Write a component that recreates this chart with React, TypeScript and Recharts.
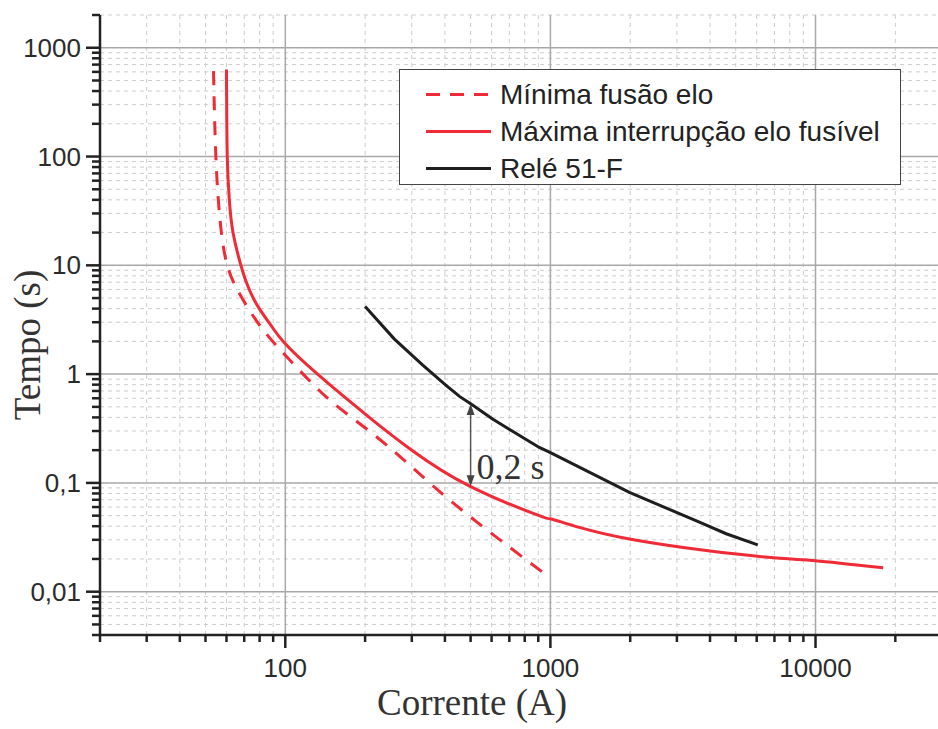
import React from 'react';
import { LineChart, Line, XAxis, YAxis, CartesianGrid, ReferenceLine } from 'recharts';

// Minimum melting curve of the fuse link (dashed red)
const minFusionCurrent = [53.6, 54.7, 56.7, 60.5, 69, 82, 100.6, 127, 162, 247, 428, 935];
const minFusionTime = [610, 101, 26.5, 9.9, 4.9, 2.6, 1.47, 0.81, 0.477, 0.212, 0.066, 0.0151];

// Maximum clearing curve of the fuse link (solid red)
const maxClearCurrent = [60, 60.4, 61.5, 63.5, 68, 71.3, 75.7, 81.9, 89.3, 99, 131, 213, 300, 494, 908, 1006, 1285, 1986, 3873, 7313, 10000, 18000];
const maxClearTime = [630, 100, 40, 20, 10, 7.0, 5.0, 3.63, 2.7, 1.95, 1.02, 0.38, 0.2, 0.094, 0.05, 0.0466, 0.039, 0.0305, 0.0239, 0.0203, 0.0193, 0.0166];

// Relay 51-F curve (black)
const relayCurrent = [200, 258, 330, 404, 454, 502, 605, 908, 996, 1986, 3648, 4603, 6056];
const relayTime = [4.19, 2.1, 1.21, 0.79, 0.624, 0.53, 0.386, 0.212, 0.191, 0.082, 0.0435, 0.0341, 0.0269];

// Coordination margin marker
const marginCurrent = 500;
const marginTimes = [0.093, 0.53];
const marginLabel = '0,2 s';

const xDecades = [10, 100, 1000, 10000];
const yDecades = [0.001, 0.01, 0.1, 1, 10, 100, 1000];
const xDomain = [20, 30000];
const yDomain = [0.004, 2000];

const legendItems = [
  { name: 'Mínima fusão elo', color: '#ee2b36', dash: '14 10' },
  { name: 'Máxima interrupção elo fusível', color: '#ee2b36', dash: undefined },
  { name: 'Relé 51-F', color: '#1e1e1e', dash: undefined },
];

const toRows = (xs: number[], ys: number[]) => xs.map((v, i) => ({ i: v, t: ys[i] }));

const buildTicks = (decades: number[], domain: number[]) => {
  const out: number[] = [];
  decades.forEach(d => {
    for (let m = 1; m <= 9; m++) {
      const v = m === 1 ? d : m * d;
      if (v >= domain[0] * 0.999 && v <= domain[1] * 1.001) out.push(v);
    }
  });
  return out;
};

const isDecade = (v: number) => Math.abs(Math.log10(v) - Math.round(Math.log10(v))) < 1e-6;
const fmt = (v: number) => (v >= 1 ? String(Math.round(v)) : String(v).replace('.', ','));

const xTicks = buildTicks(xDecades, xDomain);
const yTicks = buildTicks(yDecades, yDomain);
const xMajor = xTicks.filter(isDecade);
const xMinor = xTicks.filter(v => !isDecade(v));
const yMajor = yTicks.filter(isDecade);
const yMinor = yTicks.filter(v => !isDecade(v));

const AXIS = '#222';
const tickFont = { fontFamily: '"Liberation Sans", Arial, sans-serif', fontSize: 26, fill: '#2b2b2b' };

const YTick = (props: any) => {
  const { x, y, payload } = props;
  const major = isDecade(payload.value);
  return (
    <g>
      <line x1={x - (major ? 14 : 8)} x2={x} y1={y} y2={y} stroke={AXIS} strokeWidth={2.5} />
      {major && (
        <text x={x - 19} y={y} textAnchor="end" dominantBaseline="central" {...tickFont}>
          {fmt(payload.value)}
        </text>
      )}
    </g>
  );
};

const XTick = (props: any) => {
  const { x, y, payload } = props;
  const major = isDecade(payload.value);
  return (
    <g>
      <line x1={x} x2={x} y1={y} y2={y + (major ? 13 : 7)} stroke={AXIS} strokeWidth={2.5} />
      {major && (
        <text x={x} y={y + 42} textAnchor="middle" {...tickFont}>
          {fmt(payload.value)}
        </text>
      )}
    </g>
  );
};

const MarginArrow = (props: any) => {
  const { x1, y1, x2, y2 } = props;
  const x = x1;
  const top = Math.min(y1, y2);
  const bot = Math.max(y1, y2);
  return (
    <g>
      <line x1={x} x2={x} y1={top + 8} y2={bot - 8} stroke="#555" strokeWidth={1.5} />
      <polygon points={`${x},${top} ${x - 4},${top + 11} ${x + 4},${top + 11}`} fill="#444" />
      <polygon points={`${x},${bot} ${x - 4},${bot - 11} ${x + 4},${bot - 11}`} fill="#444" />
      <text
        x={x + 6}
        y={bot - 7}
        fontFamily='"Liberation Serif", "Times New Roman", serif'
        fontSize={36}
        fill="#333"
      >
        {marginLabel}
      </text>
    </g>
  );
};

const App: React.FC = () => {
  return (
    <div style={{ position: 'absolute', left: 0, top: 0, width: 938, height: 729, overflow: 'hidden', background: '#fff' }}>
      <LineChart width={946} height={729} margin={{ top: 15, right: 4, bottom: 0, left: 0 }}>
        <CartesianGrid
          horizontalValues={yMinor}
          verticalValues={xMinor}
          stroke="#cdcdcd"
          strokeDasharray="4 4"
        />
        <CartesianGrid horizontalValues={yMajor} verticalValues={xMajor} stroke="#a8a8a8" strokeWidth={1.5} />
        <XAxis
          dataKey="i"
          type="number"
          scale="log"
          domain={xDomain}
          allowDataOverflow
          ticks={xTicks}
          interval={0}
          height={94}
          tickSize={0}
          tickMargin={0}
          tick={<XTick />}
          axisLine={{ stroke: AXIS, strokeWidth: 2.5 }}
          tickLine={false}
        />
        <YAxis
          dataKey="t"
          type="number"
          scale="log"
          domain={yDomain}
          allowDataOverflow
          ticks={yTicks}
          interval={0}
          width={100}
          tickSize={0}
          tickMargin={0}
          tick={<YTick />}
          axisLine={{ stroke: AXIS, strokeWidth: 2.5 }}
          tickLine={false}
        />
        <Line
          data={toRows(minFusionCurrent, minFusionTime)}
          dataKey="t"
          type="natural"
          stroke="#ee2b36"
          strokeWidth={3}
          strokeDasharray="14 11"
          dot={false}
          isAnimationActive={false}
        />
        <Line
          data={toRows(maxClearCurrent, maxClearTime)}
          dataKey="t"
          type="natural"
          stroke="#ee2b36"
          strokeWidth={3}
          dot={false}
          isAnimationActive={false}
        />
        <Line
          data={toRows(relayCurrent, relayTime)}
          dataKey="t"
          type="linear"
          stroke="#1e1e1e"
          strokeWidth={3}
          dot={false}
          isAnimationActive={false}
        />
        <ReferenceLine
          segment={[
            { x: marginCurrent, y: marginTimes[0] },
            { x: marginCurrent, y: marginTimes[1] },
          ]}
          shape={<MarginArrow />}
        />
      </LineChart>

      <div
        style={{
          position: 'absolute',
          left: 399,
          top: 69,
          width: 500,
          height: 114,
          border: '1.5px solid #444',
          background: '#fff',
          fontFamily: '"Liberation Sans", Arial, sans-serif',
          fontSize: 28,
          color: '#222',
        }}
      >
        {legendItems.map((item, idx) => (
          <div
            key={item.name}
            style={{ position: 'absolute', left: 0, top: 6 + idx * 37, height: 37, display: 'flex', alignItems: 'center', whiteSpace: 'nowrap' }}
          >
            <svg width={100} height={37}>
              <line x1={26} x2={91} y1={18.5} y2={18.5} stroke={item.color} strokeWidth={3} strokeDasharray={item.dash} />
            </svg>
            <span>{item.name}</span>
          </div>
        ))}
      </div>

      <div
        style={{
          position: 'absolute',
          left: 27,
          top: 345,
          transform: 'translate(-50%, -50%) rotate(-90deg)',
          fontFamily: '"Liberation Serif", "Times New Roman", serif',
          fontSize: 37,
          color: '#333',
          whiteSpace: 'nowrap',
        }}
      >
        Tempo (s)
      </div>
      <div
        style={{
          position: 'absolute',
          left: 472,
          top: 702,
          transform: 'translate(-50%, -50%)',
          fontFamily: '"Liberation Serif", "Times New Roman", serif',
          fontSize: 37,
          color: '#333',
          whiteSpace: 'nowrap',
        }}
      >
        Corrente (A)
      </div>
    </div>
  );
};

export default App;
